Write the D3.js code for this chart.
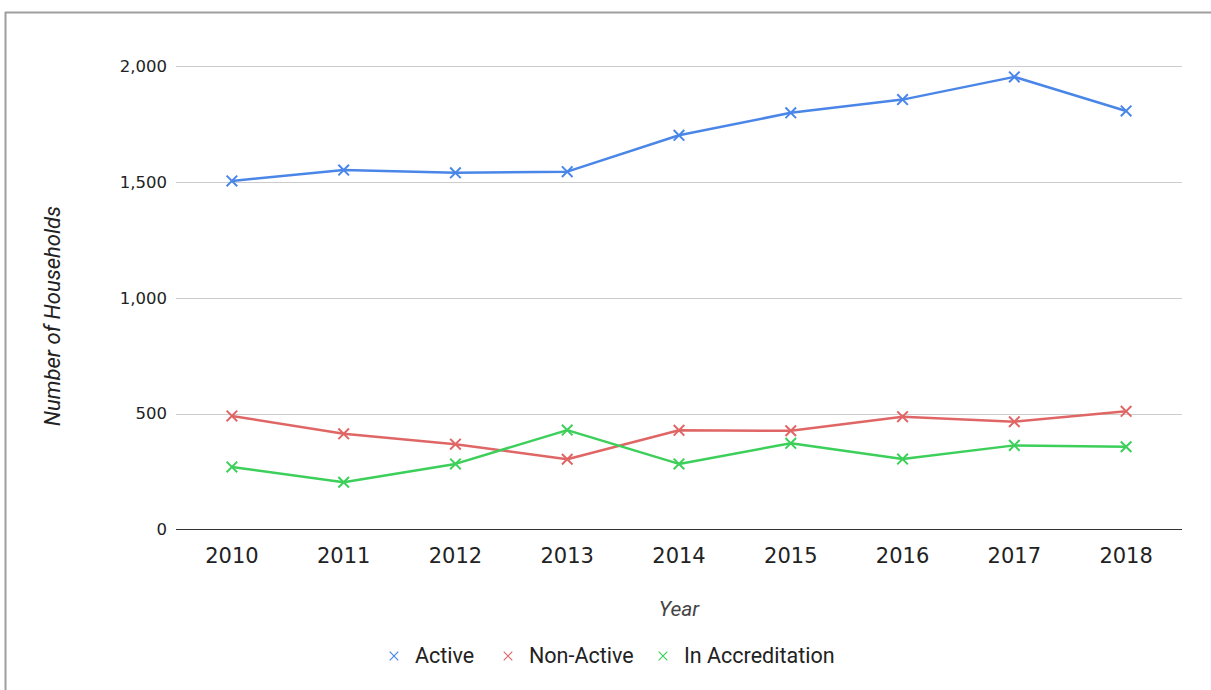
<!DOCTYPE html>
<html>
<head>
<meta charset="utf-8">
<script src="https://cdn.jsdelivr.net/npm/d3@7"></script>
<style>
  body { margin: 0; background: #fff; }
  svg { display: block; }
</style>
</head>
<body>
<div id="chart"></div>
<script>
const years = ['2010', '2011', '2012', '2013', '2014', '2015', '2016', '2017', '2018'];
const active = [1504, 1551, 1539, 1544, 1701, 1798, 1855, 1953, 1806];
const nonActive = [490, 413, 368, 303, 428, 426, 487, 465, 510];
const inAccreditation = [270, 204, 283, 429, 283, 372, 304, 363, 357];
const yTicks = [0, 500, 1000, 1500, 2000];

const seriesNames = ['Active', 'Non-Active', 'In Accreditation'];
const seriesColors = ['#4a86e8', '#e06666', '#3ccf5a'];
const seriesValues = [active, nonActive, inAccreditation];

const W = 1211, H = 690;
const margin = { top: 66, right: 29, bottom: 160.5, left: 176 };
const width = W - margin.left - margin.right;
const height = H - margin.top - margin.bottom;

const svg = d3.select('#chart').append('svg')
    .attr('width', W)
    .attr('height', H);

// frame (top + left edge only)
svg.append('line').attr('x1', 5).attr('x2', W).attr('y1', 12.5).attr('y2', 12.5)
    .attr('stroke', '#9e9e9e').attr('stroke-width', 2);
svg.append('line').attr('x1', 5.5).attr('x2', 5.5).attr('y1', 12).attr('y2', H)
    .attr('stroke', '#9e9e9e').attr('stroke-width', 2);

const g = svg.append('g').attr('transform', `translate(${margin.left},${margin.top})`);

const x = d3.scaleBand().domain(years).range([0, width]).padding(0);
const y = d3.scaleLinear().domain([0, 2000]).range([height, 0]);
const cx = d => x(d) + x.bandwidth() / 2;

// gridlines
g.append('g')
    .selectAll('line')
    .data(yTicks.filter(t => t > 0))
    .join('line')
    .attr('x1', 0).attr('x2', width)
    .attr('y1', d => Math.round(y(d)) + 0.5).attr('y2', d => Math.round(y(d)) + 0.5)
    .attr('stroke', '#cccccc').attr('stroke-width', 1);

// baseline
g.append('line')
    .attr('x1', 0).attr('x2', width)
    .attr('y1', y(0)).attr('y2', y(0))
    .attr('stroke', '#333333').attr('stroke-width', 1.2);

// y axis labels
const yAxis = g.append('g')
    .call(d3.axisLeft(y).tickValues(yTicks).tickSize(0).tickPadding(9).tickFormat(d3.format(',')));
yAxis.select('.domain').remove();
yAxis.selectAll('text')
    .attr('font-family', 'DejaVu Sans, sans-serif')
    .attr('font-size', '16.5px')
    .attr('fill', '#222');

// x axis labels
const xAxis = g.append('g')
    .attr('transform', `translate(0,${height})`)
    .call(d3.axisBottom(x).tickSize(0).tickPadding(19));
xAxis.select('.domain').remove();
xAxis.selectAll('text')
    .attr('font-family', 'DejaVu Sans, sans-serif')
    .attr('font-size', '21px')
    .attr('fill', '#222');

// axis titles
svg.append('text')
    .attr('x', margin.left + width / 2)
    .attr('y', 616)
    .attr('text-anchor', 'middle')
    .attr('font-family', 'Roboto, sans-serif')
    .attr('font-style', 'italic')
    .attr('font-size', '21px')
    .attr('fill', '#444')
    .text('Year');

svg.append('text')
    .attr('transform', `translate(60,316) rotate(-90)`)
    .attr('text-anchor', 'middle')
    .attr('font-family', 'Roboto, sans-serif')
    .attr('font-style', 'italic')
    .attr('font-size', '22px')
    .attr('fill', '#222')
    .text('Number of Households');

// lines + markers
const line = d3.line().x((d, i) => cx(years[i])).y(d => y(d));
const cross = d3.symbol().type(d3.symbolX).size(75);

seriesValues.forEach((vals, si) => {
    const sg = g.append('g');
    sg.append('path')
        .datum(vals)
        .attr('d', line)
        .attr('fill', 'none')
        .attr('stroke', seriesColors[si])
        .attr('stroke-width', 2.5)
        .attr('stroke-linejoin', 'round');
    sg.selectAll('path.mark')
        .data(vals)
        .join('path')
        .attr('class', 'mark')
        .attr('d', cross)
        .attr('transform', (d, i) => `translate(${cx(years[i])},${y(d)})`)
        .attr('fill', seriesColors[si])
        .attr('stroke', seriesColors[si])
        .attr('stroke-width', 2);
});

// legend
const legendX = [394, 508, 663];
const legend = svg.append('g');
seriesNames.forEach((name, i) => {
    legend.append('path')
        .attr('d', d3.symbol().type(d3.symbolX).size(50)())
        .attr('transform', `translate(${legendX[i]},656)`)
        .attr('fill', seriesColors[i])
        .attr('stroke', seriesColors[i])
        .attr('stroke-width', 1.2);
    legend.append('text')
        .attr('x', legendX[i] + 21)
        .attr('y', 663)
        .attr('font-family', 'Roboto, sans-serif')
        .attr('font-size', '21.5px')
        .attr('fill', '#222')
        .text(name);
});
</script>
</body>
</html>
